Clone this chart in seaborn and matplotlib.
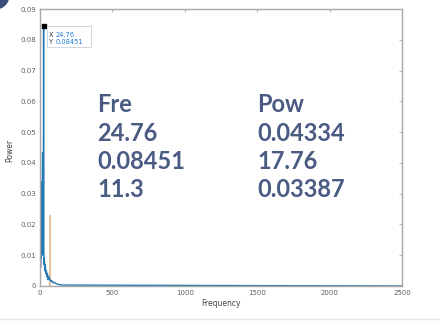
import matplotlib
matplotlib.use("Agg")
import matplotlib.pyplot as plt
import seaborn as sns
from matplotlib.patches import Circle, Rectangle
from matplotlib.lines import Line2D

# ---- data ----
freq = [0, 2, 4, 6, 8, 9.5, 11.3, 13, 15, 17.76, 19, 21, 23, 24.76, 26.5, 28, 30,
        33, 36, 40, 44, 48, 52, 56, 60, 65, 70, 75, 80, 90, 100, 110, 120, 130, 140, 150, 2500]
power = [0.004, 0.012, 0.006, 0.015, 0.009, 0.020, 0.03387, 0.012, 0.018, 0.04334, 0.014,
         0.010, 0.016, 0.08451, 0.011, 0.007, 0.009, 0.005, 0.007, 0.004, 0.005, 0.003,
         0.004, 0.002, 0.003, 0.0025, 0.002, 0.0015, 0.0018, 0.001, 0.0012, 0.0008,
         0.0006, 0.0005, 0.0004, 0.0003, 0.0]
aux_freq = [60, 66, 69, 72, 80]
aux_power = [0.0, 0.0, 0.023, 0.0, 0.0]

xticks = [0, 500, 1000, 1500, 2000, 2500]
yticks = [0, 0.01, 0.02, 0.03, 0.04, 0.05, 0.06, 0.07, 0.08, 0.09]
ytick_labels = ["0", "0.01", "0.02", "0.03", "0.04", "0.05", "0.06", "0.07", "0.08", "0.09"]

tip_x, tip_y = 24.76, 0.08451
fre_col = ["Fre", "24.76", "0.08451", "11.3"]
pow_col = ["Pow", "0.04334", "17.76", "0.03387"]

# ---- figure ----
sns.set_style("white")
plt.rcParams["font.family"] = ["DejaVu Sans"]
W, H = 440, 322
fig = plt.figure(figsize=(W / 100, H / 100), dpi=100)
fig.patch.set_facecolor("white")
ax = fig.add_axes([40 / W, 1 - 286 / H, (402 - 40) / W, (286 - 9) / H])

sns.lineplot(x=aux_freq, y=aux_power, ax=ax, color="#e2c49c", linewidth=0.8,
             estimator=None, sort=False)
sns.lineplot(x=freq, y=power, ax=ax, color="#2478b4", linewidth=1.0,
             estimator=None, sort=False)

ax.set_xlim(0, 2500)
ax.set_ylim(0, 0.09)
ax.set_xticks(xticks)
ax.set_xticklabels([str(t) for t in xticks])
ax.set_yticks(yticks)
ax.set_yticklabels(ytick_labels)
gray = "#a8a8a8"
for s in ax.spines.values():
    s.set_color(gray)
    s.set_linewidth(1.0)
ax.tick_params(direction="in", length=2.5, width=0.6, color=gray, labelsize=5,
               labelcolor="#606060", top=True, right=True, pad=3)
ax.set_xlabel("Frequency", fontsize=5.5, color="#444444", labelpad=2)
ax.set_ylabel("")
fig.text(10 / W, 1 - 150 / H, "Power", fontsize=5.5, color="#444444", rotation=90,
         ha="center", va="center")

# data tip
ax.plot([tip_x], [tip_y], marker="s", markersize=2.2, color="black")
fig.patches.append(Rectangle((47 / W, 1 - 47 / H), 44 / W, 21 / H, transform=fig.transFigure,
                             facecolor="white", edgecolor="#cfd6de", linewidth=0.7))
fig.text(49 / W, 1 - 37 / H, "X", fontsize=4.8, color="#333333", va="baseline")
fig.text(55.5 / W, 1 - 37 / H, f"{tip_x:.2f}", fontsize=4.8, color="#1f7ad8", va="baseline")
fig.text(49 / W, 1 - 44.5 / H, "Y", fontsize=4.8, color="#333333", va="baseline")
fig.text(55.5 / W, 1 - 44.5 / H, f"{tip_y:.5f}", fontsize=4.8, color="#1f7ad8", va="baseline")

# overlay text
txt_color = "#4a5a82"
baselines = [112, 141, 169, 197]
for i, (a, b) in enumerate(zip(fre_col, pow_col)):
    y = 1 - baselines[i] / H
    fig.text(97 / W, y, a, fontsize=17, color=txt_color, fontfamily="Lato",
             fontweight="bold", va="baseline")
    fig.text(257 / W, y, b, fontsize=17, color=txt_color, fontfamily="Lato",
             fontweight="bold", va="baseline")

# decorations
deco = Circle((-5, H + 5), 14, transform=None, color="#3b4d78", clip_on=False)
fig.patches.append(deco)
fig.lines.append(Line2D([0, 1], [1 - 318.5 / H, 1 - 318.5 / H], transform=fig.transFigure,
                        color="#e4e4e4", linewidth=1.0))

fig.savefig("out.png", dpi=100, facecolor="white")
